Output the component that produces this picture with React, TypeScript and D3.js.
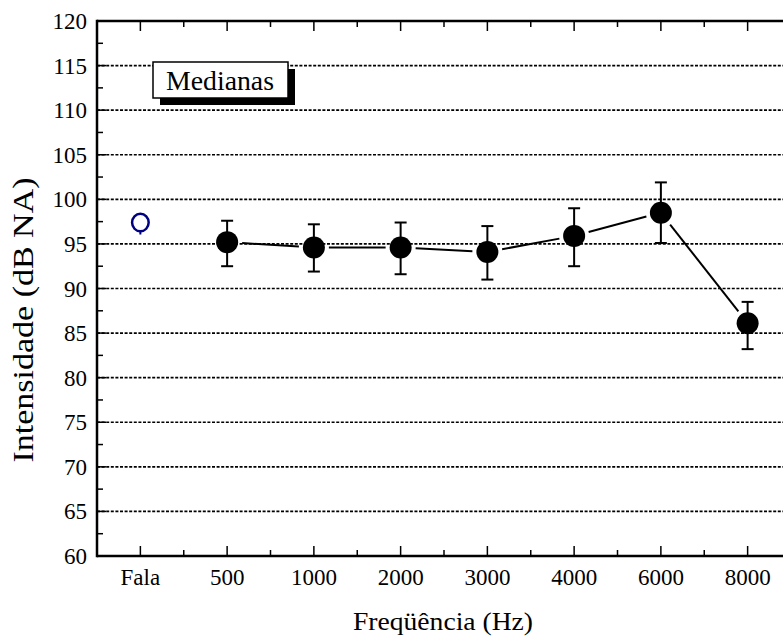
// @ts-nocheck
import React, { useRef, useEffect } from 'react';
import * as d3 from 'd3';

// categories along the x axis
const categories = ["Fala", "500", "1000", "2000", "3000", "4000", "6000", "8000"];
// speech (Fala) value, drawn as open circle
const falaValue = 97.4;
// medians per frequency (500..8000)
const freqs = ["500", "1000", "2000", "3000", "4000", "6000", "8000"];
const medians = [95.2, 94.6, 94.6, 94.1, 95.9, 98.5, 86.1];
const upperErr = [97.6, 97.2, 97.4, 97.0, 99.0, 101.9, 88.5];
const lowerErr = [92.5, 91.9, 91.6, 91.0, 92.5, 95.1, 83.2];
const yTicks = [60, 65, 70, 75, 80, 85, 90, 95, 100, 105, 110, 115, 120];
const yMinorTicks = [62.5, 67.5, 72.5, 77.5, 82.5, 87.5, 92.5, 97.5, 102.5, 107.5, 112.5, 117.5];

const FONT = "'Liberation Serif', 'Times New Roman', serif";

export default function App() {
    const svgRef = useRef(null);
    useEffect(() => {
        const width = 783;
        const left = 97, top = 21, bottom = 556;
        const svg = d3.select(svgRef.current);
        svg.selectAll('*').remove();

        const x = d3.scaleLinear().domain([0.5, 8.5]).range([left, left + 8 * 86.75]);
        const y = d3.scaleLinear().domain([60, 120]).range([bottom, top]);
        const xPos = (name) => x(categories.indexOf(name) + 1);

        // dotted grid lines
        svg.append("g")
            .selectAll("line")
            .data(yTicks.filter(d => d > 60 && d < 120))
            .enter().append("line")
            .attr("x1", left).attr("x2", width)
            .attr("y1", d => y(d)).attr("y2", d => y(d))
            .attr("stroke", "#000")
            .attr("stroke-width", 1.6)
            .attr("stroke-dasharray", "3,1.6");

        // axes frame
        const axes = svg.append("g").attr("stroke", "#000");
        axes.append("line").attr("x1", left).attr("x2", width).attr("y1", top).attr("y2", top).attr("stroke-width", 2.5);
        axes.append("line").attr("x1", left).attr("x2", width).attr("y1", bottom).attr("y2", bottom).attr("stroke-width", 2.5);
        axes.append("line").attr("x1", left).attr("x2", left).attr("y1", top - 1.2).attr("y2", bottom + 1.2).attr("stroke-width", 2.5);

        // y ticks (inward)
        yTicks.forEach(t => {
            axes.append("line").attr("x1", left).attr("x2", left + 9).attr("y1", y(t)).attr("y2", y(t)).attr("stroke-width", 1.5);
        });
        yMinorTicks.forEach(t => {
            axes.append("line").attr("x1", left).attr("x2", left + 6).attr("y1", y(t)).attr("y2", y(t)).attr("stroke-width", 1.5);
        });
        svg.append("g")
            .selectAll("text")
            .data(yTicks)
            .enter().append("text")
            .attr("x", left - 10)
            .attr("y", d => y(d))
            .attr("dy", "0.35em")
            .attr("text-anchor", "end")
            .style("font-family", FONT)
            .style("font-size", "23px")
            .text(d => d);

        // x ticks (bottom and top, inward)
        categories.forEach((c, i) => {
            const xm = x(i + 1);
            const xn = x(i + 1.5);
            axes.append("line").attr("x1", xm).attr("x2", xm).attr("y1", bottom).attr("y2", bottom - 10).attr("stroke-width", 1.5);
            axes.append("line").attr("x1", xn).attr("x2", xn).attr("y1", bottom).attr("y2", bottom - 6).attr("stroke-width", 1.5);
            axes.append("line").attr("x1", xm).attr("x2", xm).attr("y1", top).attr("y2", top + 10).attr("stroke-width", 1.5);
            axes.append("line").attr("x1", xn).attr("x2", xn).attr("y1", top).attr("y2", top + 6).attr("stroke-width", 1.5);
        });
        svg.append("g")
            .selectAll("text")
            .data(categories)
            .enter().append("text")
            .attr("x", (d, i) => x(i + 1))
            .attr("y", bottom + 29)
            .attr("text-anchor", "middle")
            .style("font-family", FONT)
            .style("font-size", "23px")
            .text(d => d);

        // axis titles
        svg.append("text")
            .attr("x", 443).attr("y", 630)
            .attr("text-anchor", "middle")
            .attr("textLength", 180)
            .attr("lengthAdjust", "spacingAndGlyphs")
            .style("font-family", FONT)
            .style("font-size", "26px")
            .text("Freqüência (Hz)");
        svg.append("text")
            .attr("transform", "translate(33,320) rotate(-90)")
            .attr("text-anchor", "middle")
            .attr("textLength", 285)
            .attr("lengthAdjust", "spacingAndGlyphs")
            .style("font-family", FONT)
            .style("font-size", "30px")
            .text("Intensidade (dB NA)");

        // connecting line with gaps around markers
        const pts = freqs.map((f, i) => [xPos(f), y(medians[i])]);
        const gap = 15;
        for (let i = 0; i < pts.length - 1; i++) {
            const [x0, y0] = pts[i], [x1, y1] = pts[i + 1];
            const len = Math.hypot(x1 - x0, y1 - y0);
            const ux = (x1 - x0) / len, uy = (y1 - y0) / len;
            svg.append("line")
                .attr("x1", x0 + ux * gap).attr("y1", y0 + uy * gap)
                .attr("x2", x1 - ux * gap).attr("y2", y1 - uy * gap)
                .attr("stroke", "#000").attr("stroke-width", 2);
        }

        // error bars
        const eb = svg.append("g").attr("stroke", "#000").attr("stroke-width", 2);
        freqs.forEach((f, i) => {
            const cx = xPos(f);
            eb.append("line").attr("x1", cx).attr("x2", cx).attr("y1", y(upperErr[i])).attr("y2", y(lowerErr[i]));
            eb.append("line").attr("x1", cx - 6).attr("x2", cx + 6).attr("y1", y(upperErr[i])).attr("y2", y(upperErr[i]));
            eb.append("line").attr("x1", cx - 6).attr("x2", cx + 6).attr("y1", y(lowerErr[i])).attr("y2", y(lowerErr[i]));
        });

        // filled markers
        svg.append("g")
            .selectAll("circle")
            .data(freqs)
            .enter().append("circle")
            .attr("cx", d => xPos(d))
            .attr("cy", (d, i) => y(medians[i]))
            .attr("r", 11)
            .attr("fill", "#000");

        // Fala open marker
        const fx = xPos("Fala"), fy = y(falaValue);
        svg.append("ellipse")
            .attr("cx", fx).attr("cy", fy)
            .attr("rx", 8.3).attr("ry", 8.8)
            .attr("fill", "none")
            .attr("stroke", "#000080")
            .attr("stroke-width", 2.5);
        svg.append("line")
            .attr("x1", fx).attr("x2", fx)
            .attr("y1", fy + 9).attr("y2", fy + 12)
            .attr("stroke", "#000080").attr("stroke-width", 2);

        // legend box with shadow
        const lg = svg.append("g");
        lg.append("rect").attr("x", 160).attr("y", 69).attr("width", 135).attr("height", 36).attr("fill", "#000");
        lg.append("rect").attr("x", 153).attr("y", 62).attr("width", 135).attr("height", 36)
            .attr("fill", "#fff").attr("stroke", "#000").attr("stroke-width", 1.5);
        lg.append("text")
            .attr("x", 220).attr("y", 90)
            .attr("text-anchor", "middle")
            .attr("textLength", 108)
            .attr("lengthAdjust", "spacingAndGlyphs")
            .style("font-family", FONT)
            .style("font-size", "27px")
            .text("Medianas");

        return () => { d3.select(svgRef.current).selectAll('*').remove(); };
    }, []);
    return (
        <svg ref={svgRef} width={783} height={637}
            style={{ position: 'absolute', left: 0, top: 0, background: '#fff' }}></svg>
    );
}
